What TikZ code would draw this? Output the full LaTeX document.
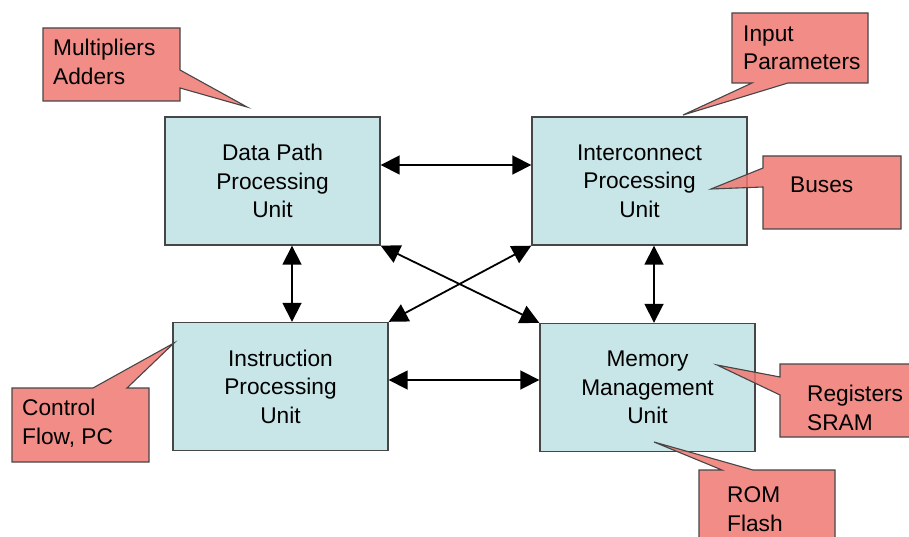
\documentclass[tikz,border=0pt]{standalone}
\usepackage{fontspec}
\setmainfont{Liberation Sans}
\usetikzlibrary{arrows.meta}

\definecolor{unitfill}{RGB}{200,229,232}
\definecolor{notefill}{RGB}{240,120,114}
\definecolor{edgegray}{RGB}{70,70,70}

\tikzset{
  unit/.style={draw=edgegray, line width=1.4pt, fill=unitfill,
    minimum width=215pt, minimum height=128pt, inner sep=0pt,
    align=center, font=\fontsize{22.7}{28.5}\selectfont},
  link/.style={line width=1.8pt,
    {Triangle[length=19pt,width=19pt]}-{Triangle[length=19pt,width=19pt]}},
  note/.style={draw=edgegray, line width=1.1pt, fill=notefill,
    fill opacity=0.85},
  notetext/.style={align=left, anchor=west, inner sep=0pt,
    font=\fontsize{22.7}{28.5}\selectfont},
}

\begin{document}
\begin{tikzpicture}[x=1pt, y=-1pt]

  \useasboundingbox (0,0) rectangle (909,537);

  % --- Units ---
  \node[unit] (dp) at (272.5,181)   {Data Path\\Processing\\Unit};
  \node[unit] (ic) at (639.5,181)   {Interconnect\\Processing\\Unit};
  \node[unit] (ip) at (280.5,386.5) {Instruction\\Processing\\Unit};
  \node[unit] (mm) at (647.5,387.5) {Memory\\Management\\Unit};

  % --- Links ---
  \coordinate (rowtop) at (0,165);
  \coordinate (rowbot) at (0,380);
  \coordinate (colL) at (292,0);
  \coordinate (colR) at (654,0);

  \draw[link] (dp.east |- rowtop) -- (ic.west |- rowtop);
  \draw[link] (ip.east |- rowbot) -- (mm.west |- rowbot);
  \draw[link] (dp.south -| colL) -- (ip.north -| colL);
  \draw[link] (ic.south -| colR) -- (mm.north -| colR);
  \draw[link] (dp.south east) -- (mm.north west);
  \draw[link] (ic.south west) -- (ip.north east);

  % --- Callouts ---
  \draw[note] (43,28) -- (180,28) -- (180,70) -- (247,107) -- (180,88)
    -- (180,101) -- (43,101) -- cycle;
  \draw[note] (732,13) -- (868,13) -- (868,83) -- (788,83) -- (683,115)
    -- (752,83) -- (732,83) -- cycle;
  \draw[note] (763,156) -- (901,156) -- (901,229) -- (763,229) -- (763,187)
    -- (711,189) -- (763,168) -- cycle;
  \draw[note] (12,388) -- (93,388) -- (174,343) -- (127,388) -- (149,388)
    -- (149,462) -- (12,462) -- cycle;
  \draw[note] (780,364) -- (920,364) -- (920,437) -- (780,437) -- (780,395)
    -- (717,365) -- (780,377) -- cycle;
  \draw[note] (699,470) -- (722,470) -- (654,442) -- (753,470) -- (835,470)
    -- (835,550) -- (699,550) -- cycle;

  \node[notetext] (mul) at (53,62)   {Multipliers\\Adders};
  \node[notetext] (inp) at (743,48)  {Input\\Parameters};
  \node[notetext] (bus) at (790,185) {Buses};
  \node[notetext] (ctl) at (22,423)  {Control\\Flow, PC};
  \node[notetext] (reg) at (807,408) {Registers\\SRAM};
  \node[notetext] (rom) at (727,509) {ROM\\Flash};

\end{tikzpicture}
\end{document}
